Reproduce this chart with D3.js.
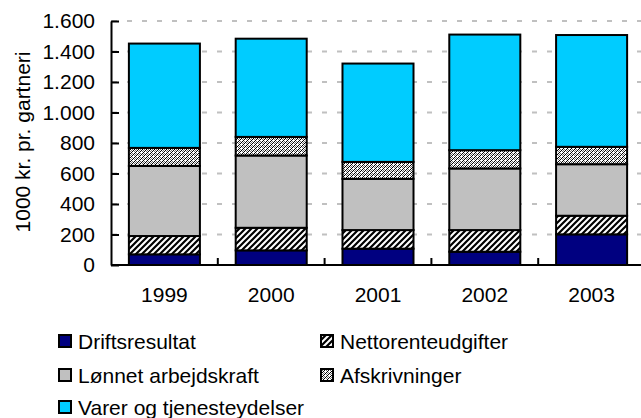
<!DOCTYPE html>
<html>
<head>
<meta charset="utf-8">
<script src="https://cdn.jsdelivr.net/npm/d3@7"></script>
<style>
  body { margin: 0; background: #fff; }
  svg { display: block; font-family: "Liberation Sans", Arial, sans-serif; }
</style>
</head>
<body>
<svg id="chart" width="641" height="418"></svg>
<script>
const years = ["1999", "2000", "2001", "2002", "2003"];
const seriesNames = ["Driftsresultat", "Nettorenteudgifter", "Lønnet arbejdskraft", "Afskrivninger", "Varer og tjenesteydelser"];
const driftsresultat = [70, 96, 107, 87, 201];
const nettorenteudgifter = [120, 148, 122, 142, 122];
const loennetArbejdskraft = [460, 474, 336, 404, 338];
const afskrivninger = [118, 122, 111, 120, 114];
const varer = [684, 644, 645, 758, 733];
const yTicks = [0, 200, 400, 600, 800, 1000, 1200, 1400, 1600];

const seriesValues = [driftsresultat, nettorenteudgifter, loennetArbejdskraft, afskrivninger, varer];
const fills = ["#000080", "url(#hatchWide)", "#c0c0c0", "url(#hatchFine)", "#00ccff"];

const svg = d3.select("#chart");
const defs = svg.append("defs");

// wide diagonal hatch
const p1 = defs.append("pattern").attr("id", "hatchWide").attr("patternUnits", "userSpaceOnUse")
  .attr("width", 6).attr("height", 6);
p1.append("rect").attr("width", 6).attr("height", 6).attr("fill", "#fff");
p1.append("path").attr("d", "M-1.5,1.5 l3,-3 M0,6 l6,-6 M4.5,7.5 l3,-3")
  .attr("stroke", "#000").attr("stroke-width", 2.2);

// fine dotted hatch
const p2 = defs.append("pattern").attr("id", "hatchFine").attr("patternUnits", "userSpaceOnUse")
  .attr("width", 4).attr("height", 4);
p2.append("rect").attr("width", 4).attr("height", 4).attr("fill", "#fff");
[[0, 3], [1, 2], [2, 1], [3, 0], [2, 3], [0, 1], [3, 2]].forEach(([px, py]) => {
  p2.append("rect").attr("x", px).attr("y", py).attr("width", 1).attr("height", 1)
    .attr("fill", (px + py) % 4 === 3 ? "#000" : "#707070").attr("shape-rendering", "crispEdges");
});

const x0 = 111, x1 = 645, yBottom = 265, yTop = 21;
const x = d3.scaleBand().domain(years).range([x0, x1]).paddingInner(0.335).paddingOuter(0.1675);
const y = d3.scaleLinear().domain([0, 1600]).range([yBottom, yTop]);

const fmt = d3.formatLocale({ decimal: ",", thousands: ".", grouping: [3], currency: ["", ""] }).format(",");

// gridlines
svg.append("g").selectAll("line").data(yTicks.filter(d => d > 0)).join("line")
  .attr("x1", x0 + 1).attr("x2", 641)
  .attr("y1", d => y(d)).attr("y2", d => y(d))
  .attr("stroke", "#c0c0c0").attr("stroke-width", 2).attr("stroke-dasharray", "5,10");

// stacked data
const rows = years.map((yr, i) => {
  const o = { year: yr };
  seriesNames.forEach((s, j) => o[s] = seriesValues[j][i]);
  return o;
});
const stacked = d3.stack().keys(seriesNames)(rows);

svg.append("g").selectAll("g").data(stacked).join("g")
  .attr("fill", (d, i) => fills[i])
  .selectAll("rect").data(d => d).join("rect")
  .attr("x", d => x(d.data.year))
  .attr("width", x.bandwidth())
  .attr("y", d => y(d[1]))
  .attr("height", d => y(d[0]) - y(d[1]))
  .attr("stroke", "#000").attr("stroke-width", 2);

// y axis
const yAxis = d3.axisLeft(y).tickValues(yTicks).tickFormat(fmt).tickSizeInner(-8).tickSizeOuter(0).tickPadding(16);
const gy = svg.append("g").attr("transform", `translate(${x0},0)`).call(yAxis);
gy.select(".domain").attr("stroke", "#000").attr("stroke-width", 2);
gy.selectAll(".tick line").attr("stroke", "#000").attr("stroke-width", 2);
gy.selectAll(".tick text").attr("font-size", 21).attr("fill", "#000")
  .attr("font-family", "Liberation Sans, Arial, sans-serif");

// x axis
const xAxis = d3.axisBottom(x).tickSize(0).tickPadding(22);
const gx = svg.append("g").attr("transform", `translate(0,${yBottom})`).call(xAxis);
gx.select(".domain").attr("stroke", "#000").attr("stroke-width", 2)
  .attr("d", `M${x0},0H641`);
gx.selectAll(".tick text").attr("font-size", 21).attr("fill", "#000")
  .attr("font-family", "Liberation Sans, Arial, sans-serif");
// inner category-boundary ticks
const step = x.step();
const boundaries = years.slice(0, -1).map(yr => x(yr) + x.bandwidth() + (step - x.bandwidth()) / 2);
svg.append("g").selectAll("line").data(boundaries).join("line")
  .attr("x1", d => d).attr("x2", d => d)
  .attr("y1", yBottom).attr("y2", yBottom - 7)
  .attr("stroke", "#000").attr("stroke-width", 2);

// y title
svg.append("text")
  .attr("transform", `translate(22,142) rotate(-90)`)
  .attr("text-anchor", "middle").attr("dominant-baseline", "central")
  .attr("font-size", 21).attr("fill", "#000")
  .text("1000 kr. pr. gartneri");

// legend
const legendPos = [
  { sx: 58, cy: 341 }, { sx: 320, cy: 341 },
  { sx: 58, cy: 375 }, { sx: 320, cy: 375 },
  { sx: 58, cy: 407 }
];
const lg = svg.append("g").selectAll("g").data(seriesNames).join("g")
  .attr("transform", (d, i) => `translate(${legendPos[i].sx},${legendPos[i].cy})`);
lg.append("rect").attr("x", 1).attr("y", -6).attr("width", 12).attr("height", 12)
  .attr("fill", (d, i) => fills[i]).attr("stroke", "#000").attr("stroke-width", 2);
lg.append("text").attr("x", 20).attr("y", 0).attr("dominant-baseline", "central")
  .attr("font-size", 21).attr("fill", "#000").text(d => d);
</script>
</body>
</html>
